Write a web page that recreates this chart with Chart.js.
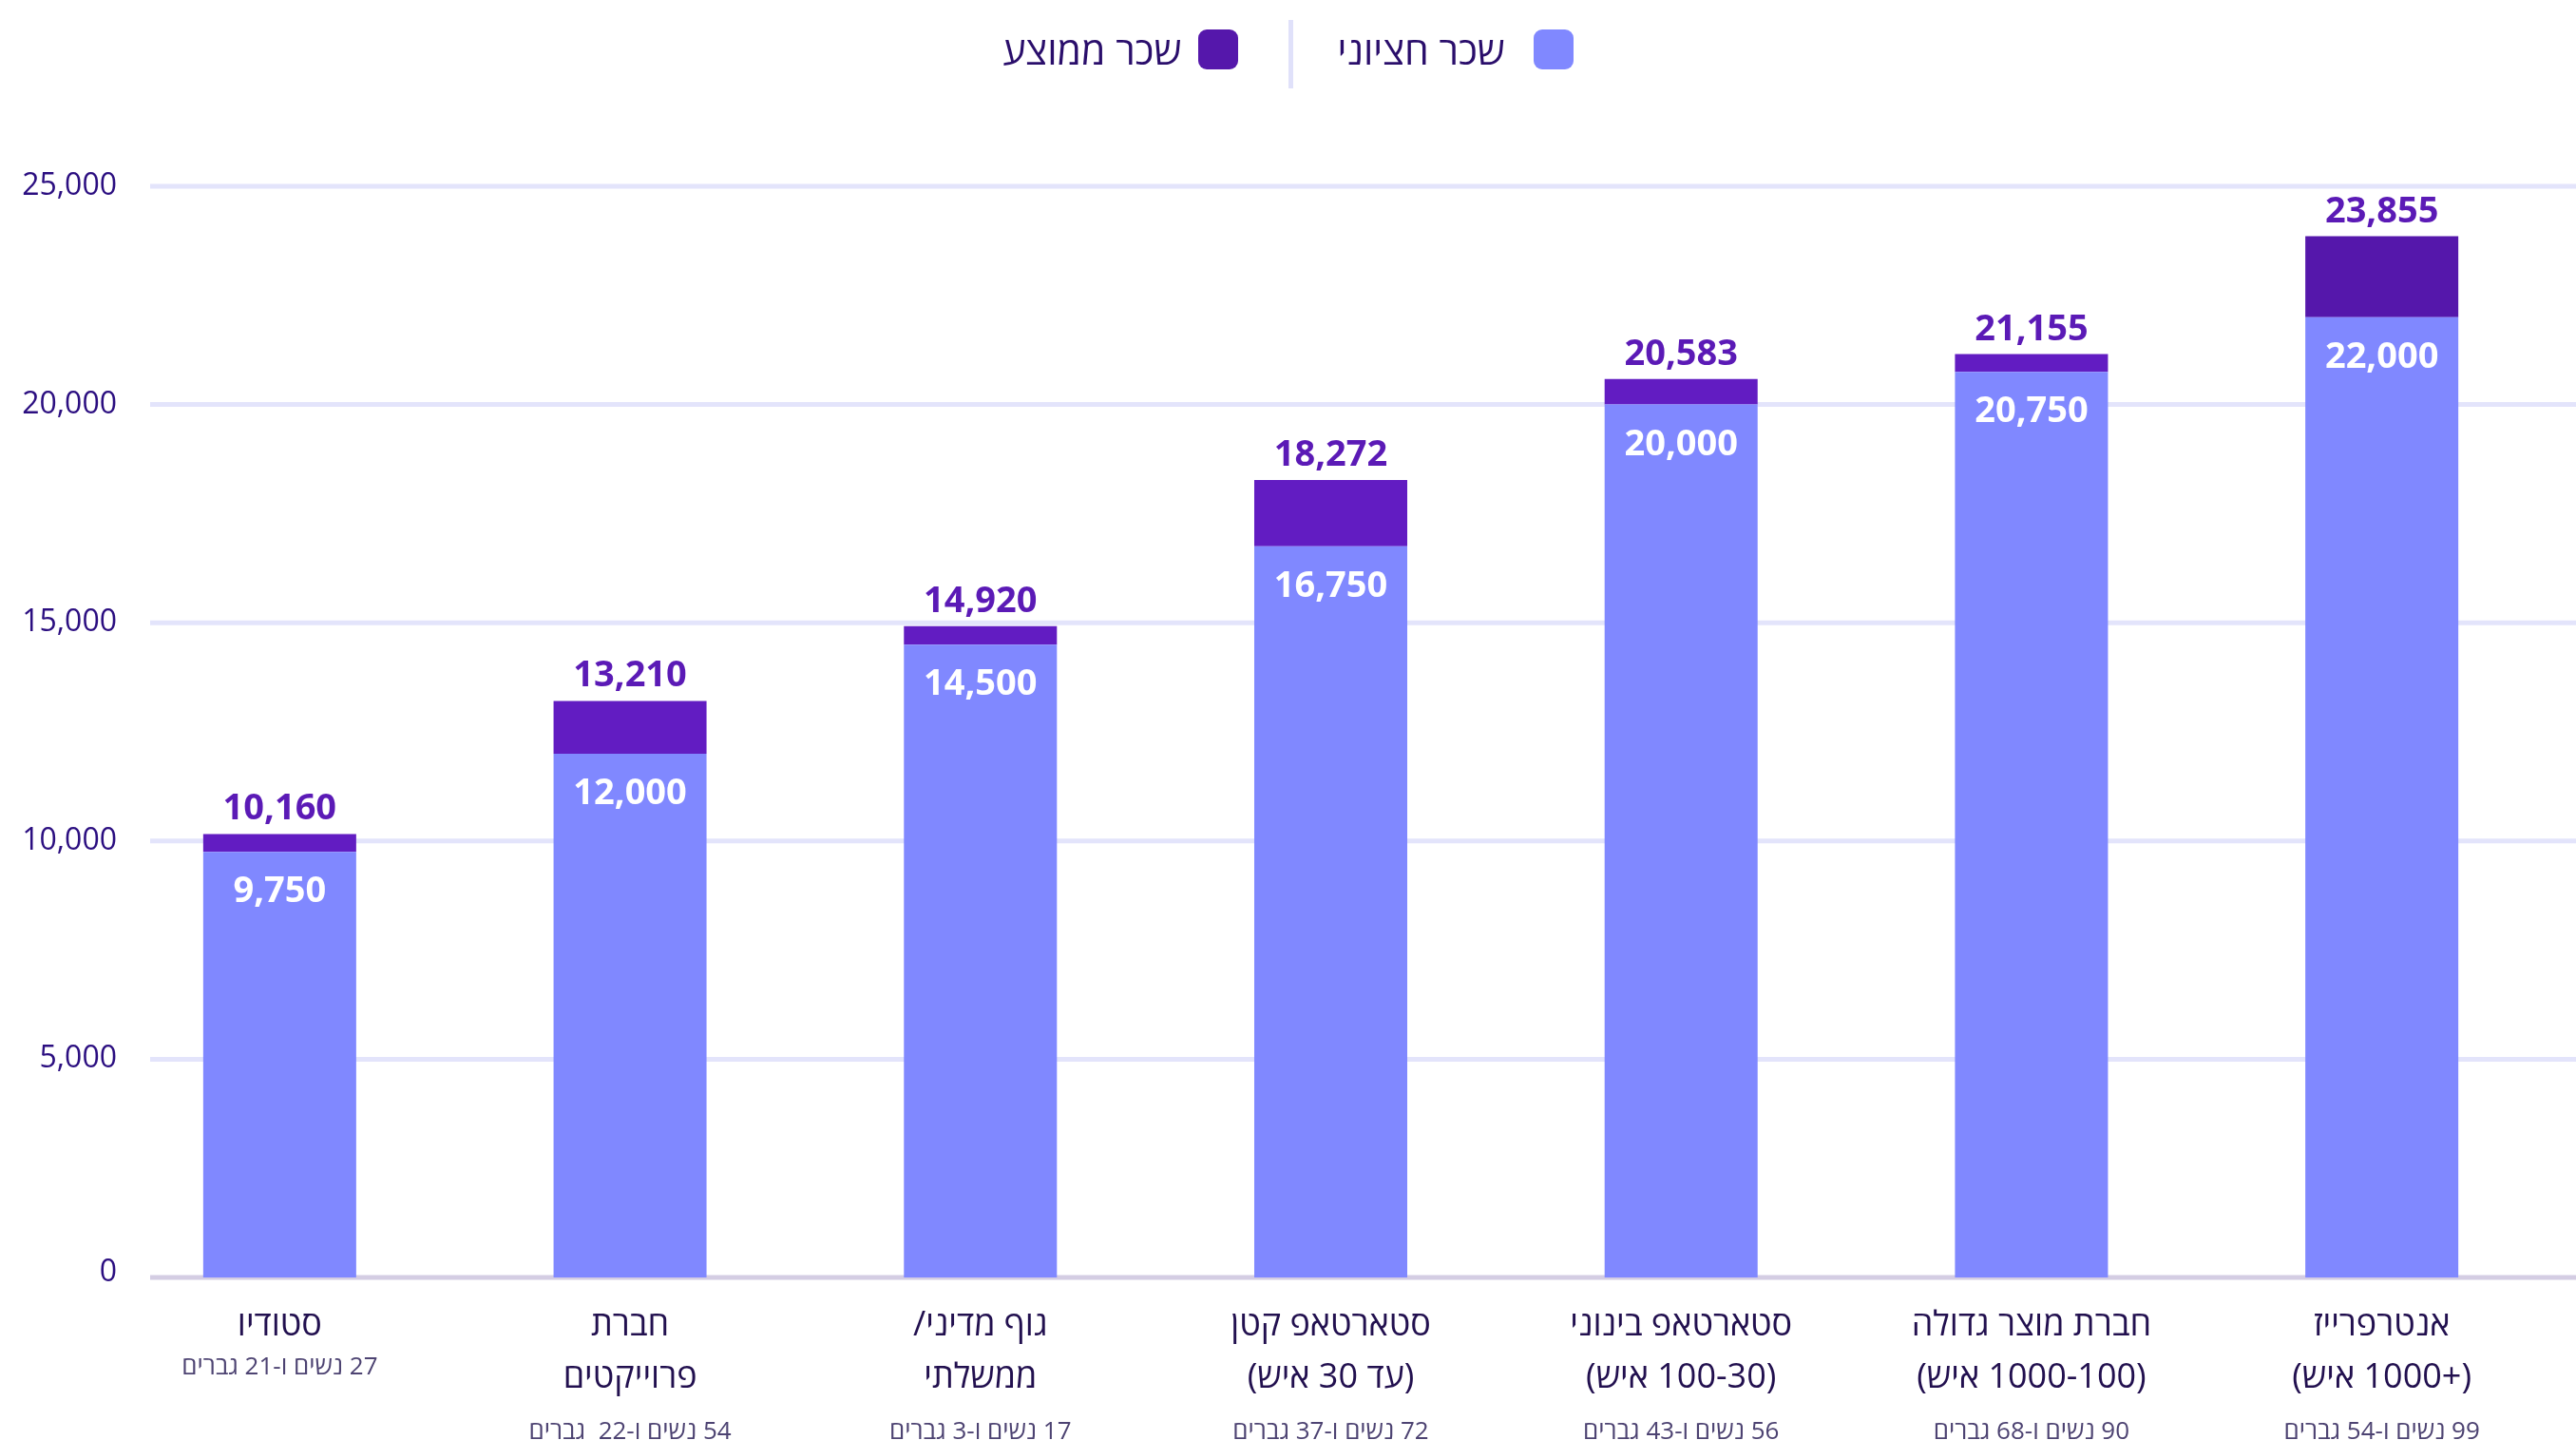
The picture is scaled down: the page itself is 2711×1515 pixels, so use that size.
<!DOCTYPE html>
<html lang="he">
<head>
<meta charset="utf-8">
<title>שכר חציוני ושכר ממוצע לפי סוג חברה</title>
<script src="https://cdn.jsdelivr.net/npm/chart.js@4.4.1/dist/chart.umd.min.js"></script>
<style>
  html, body { margin: 0; padding: 0; background: #fff; overflow: hidden; }
  #wrap { position: relative; width: 2711px; height: 1515px; }
  #salaryChart { direction: rtl; }
  #legend {
    position: absolute; top: 0; left: 0; right: 0; height: 104px;
    display: flex; direction: rtl; justify-content: center; align-items: center;
    font-family: "Open Sans", sans-serif; font-size: 41px; color: #2a0e6b;
  }
  .legend-item { display: flex; align-items: center; }
  .swatch { width: 42px; height: 42px; border-radius: 9px; }
  .legend-sep { width: 5px; height: 72px; background: #e0e1fa; margin: 10px 46px 0 53px; }
</style>
</head>
<body>
<div id="wrap">
  <div id="legend"></div>
  <canvas id="salaryChart"></canvas>
</div>
<script>
// נתונים
const categories = [
  ['סטודיו'],
  ['חברת', 'פרוייקטים'],
  ['גוף מדיני/', 'ממשלתי'],
  ['סטארטאפ קטן', '(עד 30 איש)'],
  ['סטארטאפ בינוני', '(100-30 איש)'],
  ['חברת מוצר גדולה', '(1000-100 איש)'],
  ['אנטרפרייז', '(+1000 איש)']
];
const respondents = [
  '27 נשים ו-21 גברים',
  '54 נשים ו-22  גברים',
  '17 נשים ו-3 גברים',
  '72 נשים ו-37 גברים',
  '56 נשים ו-43 גברים',
  '90 נשים ו-68 גברים',
  '99 נשים ו-54 גברים'
];
const medianSalary = [9750, 12000, 14500, 16750, 20000, 20750, 22000];
const averageSalary = [10160, 13210, 14920, 18272, 20583, 21155, 23855];
const yTicks = [0, 5000, 10000, 15000, 20000, 25000];

const MEDIAN_COLOR = '#8088ff';
const AVG_COLORS = ['#621cc2', '#621cc2', '#621cc2', '#621cc2', '#621cc2', '#621cc2', '#5517ab'];
const GRID_START = 158;

const fmt = v => v.toLocaleString('en-US');

// קווי רשת ותוויות ציר Y
const gridLines = {
  id: 'gridLines',
  beforeDatasetsDraw(chart) {
    const { ctx, width } = chart;
    const y = chart.scales.y;
    ctx.save();
    ctx.textAlign = 'right';
    ctx.textBaseline = 'middle';
    ctx.font = '32px "Open Sans"';
    ctx.fillStyle = '#2b0e80';
    y.ticks.forEach(t => {
      const py = y.getPixelForValue(t.value);
      ctx.beginPath();
      ctx.lineWidth = 5;
      ctx.strokeStyle = t.value === 0 ? '#d4cde3' : '#e3e4fb';
      ctx.moveTo(GRID_START, py);
      ctx.lineTo(width, py);
      ctx.stroke();
      ctx.fillText(fmt(t.value), GRID_START - 35, t.value === 0 ? py - 5 : py);
    });
    ctx.restore();
  }
};

// תוויות ערכים + מספר משיבים
const valueLabels = {
  id: 'valueLabels',
  afterDatasetsDraw(chart) {
    const { ctx, chartArea } = chart;
    const med = chart.getDatasetMeta(0).data;
    const avg = chart.getDatasetMeta(1).data;
    ctx.save();
    ctx.textAlign = 'center';
    ctx.textBaseline = 'alphabetic';
    ctx.font = 'bold 38px "Open Sans"';
    med.forEach((bar, i) => {
      ctx.fillStyle = '#ffffff';
      ctx.fillText(fmt(medianSalary[i]), bar.x, bar.y + 53);
      ctx.fillStyle = '#5b1ab6';
      ctx.fillText(fmt(averageSalary[i]), avg[i].x, avg[i].y - 15);
    });

    const x = chart.scales.x;
    ctx.direction = 'rtl';
    ctx.textBaseline = 'middle';
    ctx.font = '26px "Open Sans"';
    ctx.fillStyle = '#4d4372';
    respondents.forEach((txt, i) => {
      const n = categories[i].length;
      const py = chartArea.bottom + 50 + 55 * (n - 1) + (n === 1 ? 45 : 58);
      ctx.fillText(txt, x.getPixelForTick(i), py);
    });
    ctx.restore();
  }
};

const ctx = document.getElementById('salaryChart').getContext('2d');
const chart = new Chart(ctx, {
  type: 'bar',
  data: {
    labels: categories,
    datasets: [
      {
        label: 'שכר חציוני',
        data: medianSalary,
        backgroundColor: MEDIAN_COLOR,
        barPercentage: 0.4367,
        categoryPercentage: 1
      },
      {
        label: 'שכר ממוצע',
        data: averageSalary.map((v, i) => v - medianSalary[i]),
        backgroundColor: AVG_COLORS,
        barPercentage: 0.4367,
        categoryPercentage: 1
      }
    ]
  },
  options: {
    responsive: true,
    maintainAspectRatio: false,
    animation: false,
    events: [],
    layout: { padding: { top: 196, right: 20, bottom: 15, left: 0 } },
    plugins: {
      legend: { display: false },
      tooltip: { enabled: false }
    },
    scales: {
      x: {
        stacked: true,
        grid: { display: false, drawTicks: false },
        border: { display: false },
        ticks: {
          color: '#22104f',
          font: { family: 'Open Sans', size: 36, lineHeight: 1.528 },
          padding: 23,
          maxRotation: 0,
          autoSkip: false
        }
      },
      y: {
        stacked: true,
        min: 0,
        max: 25000,
        afterFit: s => { s.width = 110; },
        afterBuildTicks: s => { s.ticks = yTicks.map(v => ({ value: v })); },
        grid: { display: false, drawTicks: false },
        border: { display: false },
        ticks: { display: false }
      }
    }
  },
  plugins: [gridLines, valueLabels]
});

// מקרא
const legend = document.getElementById('legend');
chart.data.datasets.forEach((ds, i) => {
  if (i > 0) {
    const sep = document.createElement('div');
    sep.className = 'legend-sep';
    legend.appendChild(sep);
  }
  const item = document.createElement('div');
  item.className = 'legend-item';
  const sw = document.createElement('span');
  sw.className = 'swatch';
  sw.style.marginLeft = i === 0 ? '30px' : '18px';
  sw.style.background = Array.isArray(ds.backgroundColor) ? ds.backgroundColor[ds.backgroundColor.length - 1] : ds.backgroundColor;
  const tx = document.createElement('span');
  tx.textContent = ds.label;
  item.appendChild(sw);
  item.appendChild(tx);
  legend.appendChild(item);
});
</script>
</body>
</html>
